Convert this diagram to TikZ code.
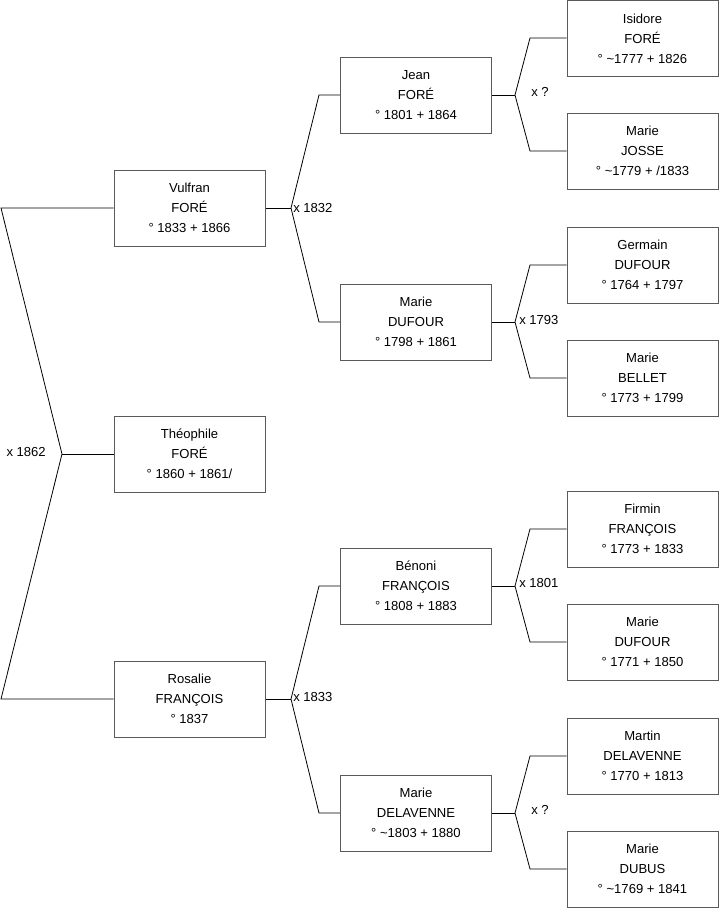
\documentclass[tikz,border=0pt]{standalone}
\usepackage{fontspec}
\setmainfont{Liberation Sans}
\definecolor{boxgray}{HTML}{5A5A5A}
\begin{document}
\begin{tikzpicture}[x=0.75pt,y=-0.75pt,
  person/.style={draw=boxgray,line width=0.75pt,minimum width=113.25pt,minimum height=57pt,
    inner sep=0pt,align=center,font=\fontsize{9.8}{15}\selectfont},
  link/.style={draw=black,line width=0.6pt},
  marr/.style={font=\fontsize{9.8}{11}\selectfont,inner sep=0pt}]
\useasboundingbox (0,0) rectangle (719,908);
% column 1
\node[person] (vulfran) at (189.5,208) {Vulfran\\FORÉ\\° 1833 + 1866};
\node[person] (theo) at (189.5,454) {Théophile\\FORÉ\\° 1860 + 1861/};
\node[person] (rosalie) at (189.5,699) {Rosalie\\FRANÇOIS\\° 1837};
% column 2
\node[person] (jean) at (416,95) {Jean\\FORÉ\\° 1801 + 1864};
\node[person] (mdufour) at (416,322) {Marie\\DUFOUR\\° 1798 + 1861};
\node[person] (benoni) at (416,586) {Bénoni\\FRANÇOIS\\° 1808 + 1883};
\node[person] (mdelav) at (416,813) {Marie\\DELAVENNE\\° \textasciitilde1803 + 1880};
% column 3
\node[person] (isidore) at (642.5,38.5) {Isidore\\FORÉ\\° \textasciitilde1777 + 1826};
\node[person] (josse) at (642.5,151) {Marie\\JOSSE\\° \textasciitilde1779 + /1833};
\node[person] (germain) at (642.5,265) {Germain\\DUFOUR\\° 1764 + 1797};
\node[person] (bellet) at (642.5,378) {Marie\\BELLET\\° 1773 + 1799};
\node[person] (firmin) at (642.5,529) {Firmin\\FRANÇOIS\\° 1773 + 1833};
\node[person] (mdufour2) at (642.5,642) {Marie\\DUFOUR\\° 1771 + 1850};
\node[person] (martin) at (642.5,756) {Martin\\DELAVENNE\\° 1770 + 1813};
\node[person] (dubus) at (642.5,869) {Marie\\DUBUS\\° \textasciitilde1769 + 1841};
% root fork
\coordinate (r0) at (62,454);
\coordinate (rt) at (1,208);
\coordinate (rb) at (1,699);
\draw[link] (vulfran.west) -- (rt) -- (r0) -- (rb) -- (rosalie.west);
\draw[link] (r0) -- (theo.west);
\node[marr,anchor=east] (m0) at (46,452) {x 1862};
% Vulfran fork
\coordinate (f1) at (291,208);
\coordinate (f1t) at (319,95);
\coordinate (f1b) at (319,322);
\draw[link] (vulfran.east) -- (f1);
\draw[link] (jean.west) -- (f1t) -- (f1) -- (f1b) -- (mdufour.west);
\node[marr,anchor=west] (m1) at (293,208) {x 1832};
% Rosalie fork
\coordinate (f2) at (291,699);
\coordinate (f2t) at (319,586);
\coordinate (f2b) at (319,813);
\draw[link] (rosalie.east) -- (f2);
\draw[link] (benoni.west) -- (f2t) -- (f2) -- (f2b) -- (mdelav.west);
\node[marr,anchor=west] (m2) at (293,697) {x 1833};
% Jean fork
\coordinate (f3) at (515,95);
\coordinate (f3t) at (530,38);
\coordinate (f3b) at (530,151);
\draw[link] (jean.east) -- (f3);
\draw[link] (isidore.west |- f3t) -- (f3t) -- (f3) -- (f3b) -- (josse.west);
\node[marr,anchor=west] (m3) at (531,92) {x ?};
% Marie Dufour fork
\coordinate (f4) at (515,322);
\coordinate (f4t) at (530,265);
\coordinate (f4b) at (530,378);
\draw[link] (mdufour.east) -- (f4);
\draw[link] (germain.west) -- (f4t) -- (f4) -- (f4b) -- (bellet.west);
\node[marr,anchor=west] (m4) at (519,320) {x 1793};
% Benoni fork
\coordinate (f5) at (515,586);
\coordinate (f5t) at (530,529);
\coordinate (f5b) at (530,642);
\draw[link] (benoni.east) -- (f5);
\draw[link] (firmin.west) -- (f5t) -- (f5) -- (f5b) -- (mdufour2.west);
\node[marr,anchor=west] (m5) at (519,583) {x 1801};
% Marie Delavenne fork
\coordinate (f6) at (515,813);
\coordinate (f6t) at (530,756);
\coordinate (f6b) at (530,869);
\draw[link] (mdelav.east) -- (f6);
\draw[link] (martin.west) -- (f6t) -- (f6) -- (f6b) -- (dubus.west);
\node[marr,anchor=west] (m6) at (531,810) {x ?};
\end{tikzpicture}
\end{document}
